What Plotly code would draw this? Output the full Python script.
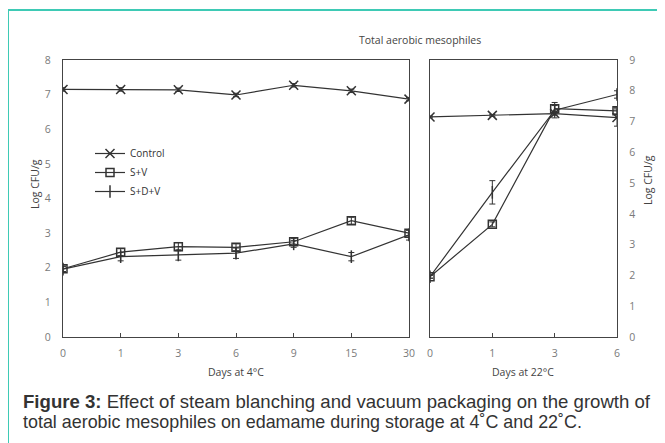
import plotly.graph_objects as go

# The page body has an 8px default margin, so the figure is drawn 8px smaller
# and every reference pixel position is shifted by OFF.
OFF = 8
W, H = 665 - OFF, 443 - OFF

# ---- data ----
days_4c = ["0", "1", "3", "6", "9", "15", "30"]
control_4c = [7.15, 7.15, 7.14, 6.99, 7.27, 7.11, 6.87]
sv_4c = [1.97, 2.45, 2.61, 2.59, 2.75, 3.36, 3.0]
sdv_4c = [1.96, 2.32, 2.37, 2.42, 2.69, 2.32, 2.95]
control_4c_err = [0.05, 0.05, 0.05, 0.05, 0.05, 0.05, 0.05]
sv_4c_err = [0.08, 0.1, 0.12, 0.1, 0.1, 0.1, 0.08]
sdv_4c_err = [0.08, 0.12, 0.15, 0.15, 0.1, 0.12, 0.15]

days_22c = ["0", "1", "3", "6"]
control_22c = [7.15, 7.2, 7.26, 7.13]
sv_22c = [1.96, 3.66, 7.42, 7.35]
sdv_22c = [1.96, 4.70, 7.37, 7.88]
control_22c_err = [0.03, 0.03, 0.05, 0.28]
sv_22c_err = [0.05, 0.08, 0.1, 0.1]
sdv_22c_err = [0.05, 0.38, 0.25, 0.12]

series = ["Control", "S+V", "S+D+V"]
symbols = ["x-thin-open", "square-open", "line-ns-open"]
sizes = [9, 8, 9]

LINE = "#333333"
GREY_TXT = "#7a7a7a"
FONT = "Open Sans"


def px(x):
    return (x - OFF) / W


def py(y):
    return 1 - (y - OFF) / H


fig = go.Figure()

left_sets = [(control_4c, control_4c_err), (sv_4c, sv_4c_err), (sdv_4c, sdv_4c_err)]
right_sets = [(control_22c, control_22c_err), (sv_22c, sv_22c_err), (sdv_22c, sdv_22c_err)]

for i, name in enumerate(series):
    vals, err = left_sets[i]
    fig.add_trace(go.Scatter(
        x=list(range(len(days_4c))), y=vals, name=name, mode="lines+markers",
        line=dict(color=LINE, width=1.2),
        marker=dict(symbol=symbols[i], size=sizes[i], color=LINE,
                    line=dict(color=LINE, width=1.5)),
        error_y=dict(type="data", array=err, color=LINE, thickness=1, width=3),
        xaxis="x", yaxis="y", showlegend=True,
    ))
for i, name in enumerate(series):
    vals, err = right_sets[i]
    fig.add_trace(go.Scatter(
        x=list(range(len(days_22c))), y=vals, name=name, mode="lines+markers",
        line=dict(color=LINE, width=1.2),
        marker=dict(symbol=symbols[i], size=sizes[i], color=LINE,
                    line=dict(color=LINE, width=1.5)),
        error_y=dict(type="data", array=err, color=LINE, thickness=1, width=3),
        xaxis="x2", yaxis="y2", showlegend=False,
    ))

ydom = [py(337), py(60)]
tickfont = dict(family=FONT, size=10.5, color=GREY_TXT)

fig.update_layout(
    width=W, height=H, autosize=False,
    margin=dict(l=0, r=0, t=0, b=0),
    paper_bgcolor="white", plot_bgcolor="white",
    showlegend=True,
    legend=dict(x=px(90), y=py(139), xanchor="left", yanchor="top",
                bgcolor="rgba(0,0,0,0)", font=dict(family=FONT, size=10, color="#333"),
                tracegroupgap=0, itemwidth=30),
    xaxis=dict(domain=[px(63), px(409)], range=[0, 6], tickmode="array",
               tickvals=list(range(len(days_4c))), ticktext=days_4c,
               showgrid=False, zeroline=False, showline=True, mirror=True,
               linecolor="#444", linewidth=1.3, ticks="inside", ticklen=4,
               tickcolor="#444", tickfont=tickfont, automargin=False, anchor="y",
               ticklabelstandoff=6),
    yaxis=dict(domain=ydom, range=[0, 8], dtick=1, showgrid=False, zeroline=False,
               showline=True, mirror=True, linecolor="#444", linewidth=1.3,
               ticks="", tickfont=tickfont, automargin=False, anchor="x",
               ticklabelstandoff=9),
    xaxis2=dict(domain=[px(430), px(617)], range=[0, 3], tickmode="array",
                tickvals=list(range(len(days_22c))), ticktext=days_22c,
                showgrid=False, zeroline=False, showline=True, mirror=True,
                linecolor="#444", linewidth=1.3, ticks="inside", ticklen=4,
                tickcolor="#444", tickfont=tickfont, automargin=False, anchor="y2",
                ticklabelstandoff=6),
    yaxis2=dict(domain=ydom, range=[0, 9], dtick=1, side="right", showgrid=False,
                zeroline=False, showline=True, mirror=True, linecolor="#444",
                linewidth=1.3, ticks="", tickfont=tickfont, automargin=False,
                anchor="x2", ticklabelstandoff=9),
)

ann_font = dict(family=FONT, size=10.5, color="#444")


def label(text, x, y, angle=0):
    fig.add_annotation(text=text, x=px(x), y=py(y), xref="paper", yref="paper",
                       xanchor="center", yanchor="middle", showarrow=False,
                       textangle=angle, font=ann_font)


label("Total aerobic mesophiles", 420, 40)
label("Days at 4°C", 236, 372)
label("Days at 22°C", 523, 372)
label("Log CFU/g", 35, 184, -90)
label("Log CFU/g", 648, 180, -90)

fig.add_annotation(
    text="<b>Figure 3:</b> Effect of steam blanching and vacuum packaging on the growth of",
    x=px(21), y=py(401), xref="paper", yref="paper", xanchor="left", yanchor="middle",
    showarrow=False, font=dict(family="Liberation Sans", size=18.6, color="#333333"))
fig.add_annotation(
    text="total aerobic mesophiles on edamame during storage at 4˚C and 22˚C.",
    x=px(21), y=py(422), xref="paper", yref="paper", xanchor="left", yanchor="middle",
    showarrow=False, font=dict(family="Liberation Sans", size=17.9, color="#333333"))

# teal frame (left and top edges)
fig.add_shape(type="path", xref="paper", yref="paper",
              path=f"M {px(8)},{py(460)} L {px(8)},{py(10)} L {px(680)},{py(10)}",
              line=dict(color="#3ecab5", width=2))

fig.write_html("out.html")
